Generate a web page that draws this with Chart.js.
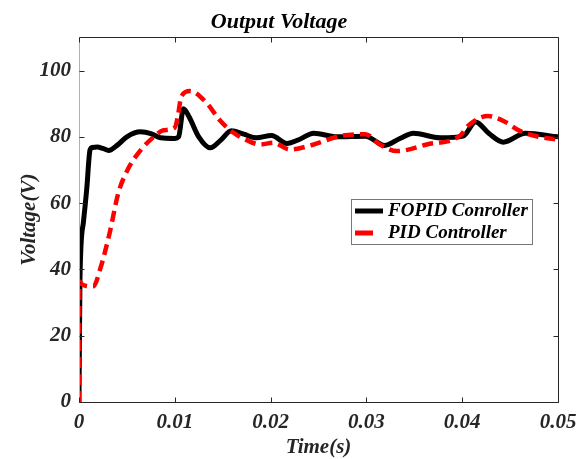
<!DOCTYPE html>
<html>
<head>
<meta charset="utf-8">
<script src="https://cdn.jsdelivr.net/npm/chart.js@4"></script>
<style>
  html, body { margin: 0; padding: 0; background: #fff; }
  #wrap { width: 587px; height: 459px; }
</style>
</head>
<body>
<div id="wrap"><canvas id="voltChart"></canvas></div>
<script>
// values
const fopidTime = [0, 0.0001, 0.00045, 0.0008, 0.00115, 0.0014, 0.0019, 0.0025, 0.0031, 0.0040, 0.0050, 0.0064, 0.0075, 0.0085, 0.0100, 0.0104, 0.0109, 0.0115, 0.0125, 0.0137, 0.0148, 0.0159, 0.0172, 0.0185, 0.0201, 0.0217, 0.0230, 0.0245, 0.0269, 0.0299, 0.0319, 0.0335, 0.0349, 0.0377, 0.0401, 0.0414, 0.0428, 0.0443, 0.0466, 0.0500];
const fopidVolt = [0, 37, 54, 64, 76, 76.8, 76.9, 76.5, 75.9, 77.5, 80, 81.5, 81, 79.7, 79.5, 80, 88.5, 86, 80, 76.7, 79, 81.8, 80.8, 79.7, 80.4, 78, 79.2, 81.1, 80, 80.2, 77.4, 79.5, 81.1, 79.7, 80.2, 84.5, 81, 78.4, 81.1, 80];

const pidTime = [0, 0.00005, 0.0003, 0.0008, 0.0015, 0.0022, 0.0032, 0.0041, 0.0051, 0.0065, 0.0079, 0.0088, 0.0100, 0.0103, 0.0107, 0.0116, 0.0133, 0.0147, 0.0161, 0.0175, 0.0189, 0.0203, 0.0220, 0.0245, 0.0272, 0.0299, 0.0314, 0.0332, 0.0363, 0.0398, 0.0406, 0.0427, 0.0445, 0.0460, 0.0480, 0.0500];
const pidVolt = [0, 36.4, 35.5, 35, 34.9, 40, 51, 63, 70.2, 76.2, 80.2, 82, 82.8, 86, 92.3, 93.8, 90.3, 85, 81.3, 79, 77.7, 78.2, 76.2, 77.7, 80.2, 80.8, 77.7, 75.7, 77.7, 80.4, 83.3, 86.3, 84.5, 81.8, 80, 79.2];

const xTicks = [0, 0.01, 0.02, 0.03, 0.04, 0.05];
const yTicks = [0, 20, 40, 60, 80, 100];
const seriesNames = ['FOPID Conroller', 'PID Controller'];

const serif = "'Liberation Serif', 'DejaVu Serif', serif";
const tickFont = { family: serif, size: 21, style: 'italic', weight: 'bold' };

function toPoints(ts, vs) {
    return ts.map((t, i) => ({ x: t, y: vs[i] }));
}

// box round the plot, ticks pointing inwards, and the legend inside
const boxPlugin = {
    id: 'matlabBox',
    afterDraw(chart) {
        const { ctx, chartArea: a, scales } = chart;
        const L = Math.round(a.left) + 0.5, R = Math.round(a.right) + 0.5;
        const T = Math.round(a.top) + 0.5, B = Math.round(a.bottom) + 0.5;
        ctx.save();
        ctx.lineWidth = 1;
        ctx.strokeStyle = '#b0b0b0';
        ctx.beginPath();
        ctx.moveTo(L, B); ctx.lineTo(L, T);
        ctx.stroke();
        ctx.strokeStyle = '#262626';
        ctx.beginPath();
        ctx.moveTo(L, T); ctx.lineTo(R, T); ctx.lineTo(R, B); ctx.lineTo(L, B);
        xTicks.forEach(v => {
            const px = Math.round(scales.x.getPixelForValue(v)) + 0.5;
            ctx.moveTo(px, B); ctx.lineTo(px, B - 5);
            ctx.moveTo(px, T); ctx.lineTo(px, T + 5);
        });
        yTicks.forEach(v => {
            const py = Math.round(scales.y.getPixelForValue(v)) + 0.5;
            ctx.moveTo(L, py); ctx.lineTo(L + 5, py);
            ctx.moveTo(R, py); ctx.lineTo(R - 5, py);
        });
        ctx.stroke();

        // legend
        const lx = 351, ly = 199, lw = 181, lh = 45;
        ctx.fillStyle = '#fff';
        ctx.fillRect(lx, ly, lw, lh);
        ctx.strokeStyle = '#777';
        ctx.strokeRect(lx + 0.5, ly + 0.5, lw, lh);
        ctx.font = "italic bold 19px " + serif;
        ctx.textBaseline = 'middle';
        ctx.fillStyle = '#000';
        chart.data.datasets.forEach((ds, i) => {
            const y = ly + 12 + i * 22;
            ctx.beginPath();
            ctx.strokeStyle = ds.borderColor;
            ctx.lineWidth = 5;
            ctx.moveTo(lx + 4, y);
            ctx.lineTo(lx + (i === 0 ? 32 : 22), y);
            ctx.stroke();
            ctx.fillText(ds.label, lx + 37, y);
        });
        ctx.restore();
    }
};

new Chart(document.getElementById('voltChart'), {
    type: 'line',
    data: {
        datasets: [{
            label: seriesNames[0],
            data: toPoints(fopidTime, fopidVolt),
            borderColor: '#000000',
            borderWidth: 5,
            pointRadius: 0,
            order: 1,
            cubicInterpolationMode: 'monotone'
        }, {
            label: seriesNames[1],
            data: toPoints(pidTime, pidVolt),
            borderColor: '#ff0000',
            borderWidth: 4.5,
            borderDash: [11, 6],
            pointRadius: 0,
            order: 0,
            cubicInterpolationMode: 'monotone'
        }]
    },
    options: {
        responsive: true,
        maintainAspectRatio: false,
        animation: false,
        layout: { padding: { left: 0, right: 29, top: 0, bottom: 0 } },
        plugins: {
            legend: { display: false },
            tooltip: { enabled: false },
            title: {
                display: true,
                text: 'Output Voltage',
                color: '#000',
                font: { family: serif, size: 22, style: 'italic', weight: 'bold' },
                padding: { top: 9, bottom: 2 }
            }
        },
        scales: {
            x: {
                type: 'linear',
                min: 0,
                max: 0.05,
                grid: { display: false, drawTicks: false },
                border: { display: false },
                afterBuildTicks: s => { s.ticks = xTicks.map(v => ({ value: v })); },
                afterFit: s => { s.height = 57; },
                ticks: {
                    color: '#262626',
                    font: tickFont,
                    padding: 8,
                    maxRotation: 0,
                    callback: v => String(v)
                },
                title: {
                    display: true,
                    text: 'Time(s)',
                    color: '#262626',
                    font: tickFont,
                    padding: { top: 0, bottom: -1 }
                }
            },
            y: {
                min: 0,
                max: 110,
                grid: { display: false, drawTicks: false },
                border: { display: false },
                afterBuildTicks: s => { s.ticks = yTicks.map(v => ({ value: v })); },
                afterFit: s => { s.width = 79; },
                ticks: {
                    color: '#262626',
                    font: tickFont,
                    padding: 8
                },
                title: {
                    display: true,
                    text: 'Voltage(V)',
                    color: '#262626',
                    font: tickFont,
                    padding: { top: 17, bottom: 0 }
                }
            }
        }
    },
    plugins: [boxPlugin]
});
</script>
</body>
</html>
